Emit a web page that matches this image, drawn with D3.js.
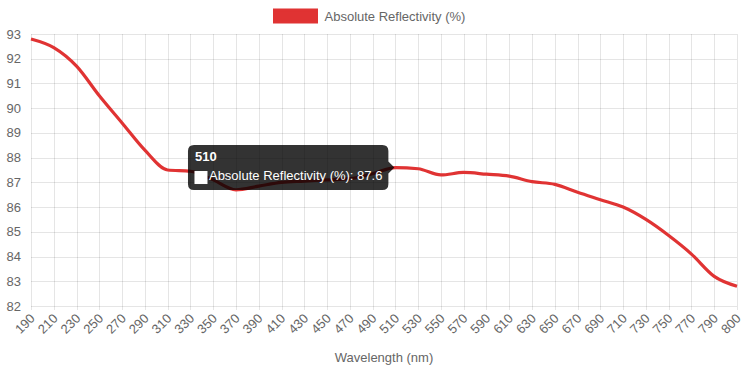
<!DOCTYPE html>
<html>
<head>
<meta charset="utf-8">
<script src="https://cdn.jsdelivr.net/npm/d3@7"></script>
<style>
  html, body { margin: 0; padding: 0; background: #fff; }
  svg { display: block; font-family: "Liberation Sans", Arial, Helvetica, sans-serif; }
</style>
</head>
<body>
<svg id="chart" width="745" height="372"></svg>
<script>
const wavelengths = [190,210,230,250,270,290,310,330,350,370,390,410,430,450,470,490,510,530,550,570,590,610,630,650,670,690,710,730,750,770,790,800];
const reflectivity = [92.8,92.45,91.7,90.5,89.4,88.3,87.5,87.45,87.1,86.7,86.85,87.0,87.05,87.1,87.15,87.35,87.6,87.55,87.3,87.4,87.33,87.25,87.03,86.92,86.6,86.3,86.0,85.5,84.85,84.1,83.2,82.8];
const yTicks = [82,83,84,85,86,87,88,89,90,91,92,93];
const seriesName = "Absolute Reflectivity (%)";
const xTitle = "Wavelength (nm)";
const tooltipIndex = 16;

const W = 745, H = 372;
const pLeft = 31, pRight = 737, pTop = 34, pBottom = 306;
const red = "rgb(224,51,51)";
const grid = "rgba(0,0,0,0.1)";
const txt = "#666";
const fs = 13;

const svg = d3.select("#chart");
const x = d3.scalePoint().domain(wavelengths).range([pLeft, pRight]);
const y = d3.scaleLinear().domain([82, 93]).range([pBottom, pTop]);

// grid
const g = svg.append("g");
g.selectAll(".hg").data(yTicks).join("line")
  .attr("x1", pLeft).attr("x2", pRight)
  .attr("y1", d => Math.round(y(d)) + 0.5).attr("y2", d => Math.round(y(d)) + 0.5)
  .attr("stroke", grid);
g.selectAll(".vg").data(wavelengths).join("line")
  .attr("x1", d => Math.round(x(d)) + 0.5).attr("x2", d => Math.round(x(d)) + 0.5)
  .attr("y1", pTop).attr("y2", pBottom + 4)
  .attr("stroke", grid);

// y axis labels
svg.append("g").selectAll("text").data(yTicks).join("text")
  .attr("x", pLeft - 10).attr("y", d => y(d))
  .attr("dy", "0.35em")
  .attr("text-anchor", "end")
  .attr("font-size", fs).attr("fill", txt)
  .text(d => d);

// x axis labels
svg.append("g").selectAll("text").data(wavelengths).join("text")
  .attr("transform", d => `translate(${x(d) + 1.5},${pBottom + 10}) rotate(-45)`)
  .attr("dy", "0.35em")
  .attr("text-anchor", "end")
  .attr("font-size", fs).attr("fill", txt)
  .text(d => d);

// axis title
svg.append("text")
  .attr("x", (pLeft + pRight) / 2).attr("y", 362)
  .attr("text-anchor", "middle")
  .attr("font-size", fs).attr("fill", txt)
  .text(xTitle);

// line
const line = d3.line()
  .x((d, i) => x(wavelengths[i]))
  .y(d => y(d))
  .curve(d3.curveMonotoneX);
svg.append("path")
  .datum(reflectivity)
  .attr("d", line)
  .attr("fill", "none")
  .attr("stroke", red)
  .attr("stroke-width", 3.2)
  .attr("stroke-linejoin", "round");

// legend
const leg = svg.append("g");
const lx = W / 2 - 98;
leg.append("rect")
  .attr("x", lx).attr("y", 10).attr("width", 42).attr("height", 12)
  .attr("fill", red).attr("stroke", red).attr("stroke-width", 3);
leg.append("text")
  .attr("font-size", fs).attr("fill", txt)
  .attr("x", lx + 50).attr("y", 21)
  .text(seriesName);

// tooltip
const px = x(wavelengths[tooltipIndex]);
const py = y(reflectivity[tooltipIndex]);
const tip = svg.append("g");
const bodyText = tip.append("text")
  .attr("font-size", fs).attr("fill", "#fff")
  .text(`${seriesName}: ${reflectivity[tooltipIndex]}`);
const bodyW = bodyText.node().getBBox().width;
const boxW = 6 + 12 + 3 + bodyW + 6;
const boxH = 45;
const bx = px - 7 - boxW;
const by = py - 22.5;
const r = 6;
const tipPath = d3.path();
tipPath.moveTo(bx + r, by);
tipPath.lineTo(bx + boxW - r, by);
tipPath.quadraticCurveTo(bx + boxW, by, bx + boxW, by + r);
tipPath.lineTo(bx + boxW, py - 6);
tipPath.lineTo(bx + boxW + 6, py);
tipPath.lineTo(bx + boxW, py + 6);
tipPath.lineTo(bx + boxW, by + boxH - r);
tipPath.quadraticCurveTo(bx + boxW, by + boxH, bx + boxW - r, by + boxH);
tipPath.lineTo(bx + r, by + boxH);
tipPath.quadraticCurveTo(bx, by + boxH, bx, by + boxH - r);
tipPath.lineTo(bx, by + r);
tipPath.quadraticCurveTo(bx, by, bx + r, by);
tipPath.closePath();
tip.insert("path", "text").attr("d", tipPath.toString()).attr("fill", "rgba(0,0,0,0.8)");
bodyText.attr("x", bx + 21).attr("y", by + 35);
tip.append("text")
  .attr("x", bx + 7).attr("y", by + 16)
  .attr("font-size", fs).attr("font-weight", "bold").attr("fill", "#fff")
  .text(wavelengths[tooltipIndex]);
tip.append("rect")
  .attr("x", bx + 7).attr("y", by + 26.5).attr("width", 12).attr("height", 12)
  .attr("fill", "#fff").attr("stroke", "#fff").attr("stroke-width", 1);
</script>
</body>
</html>
